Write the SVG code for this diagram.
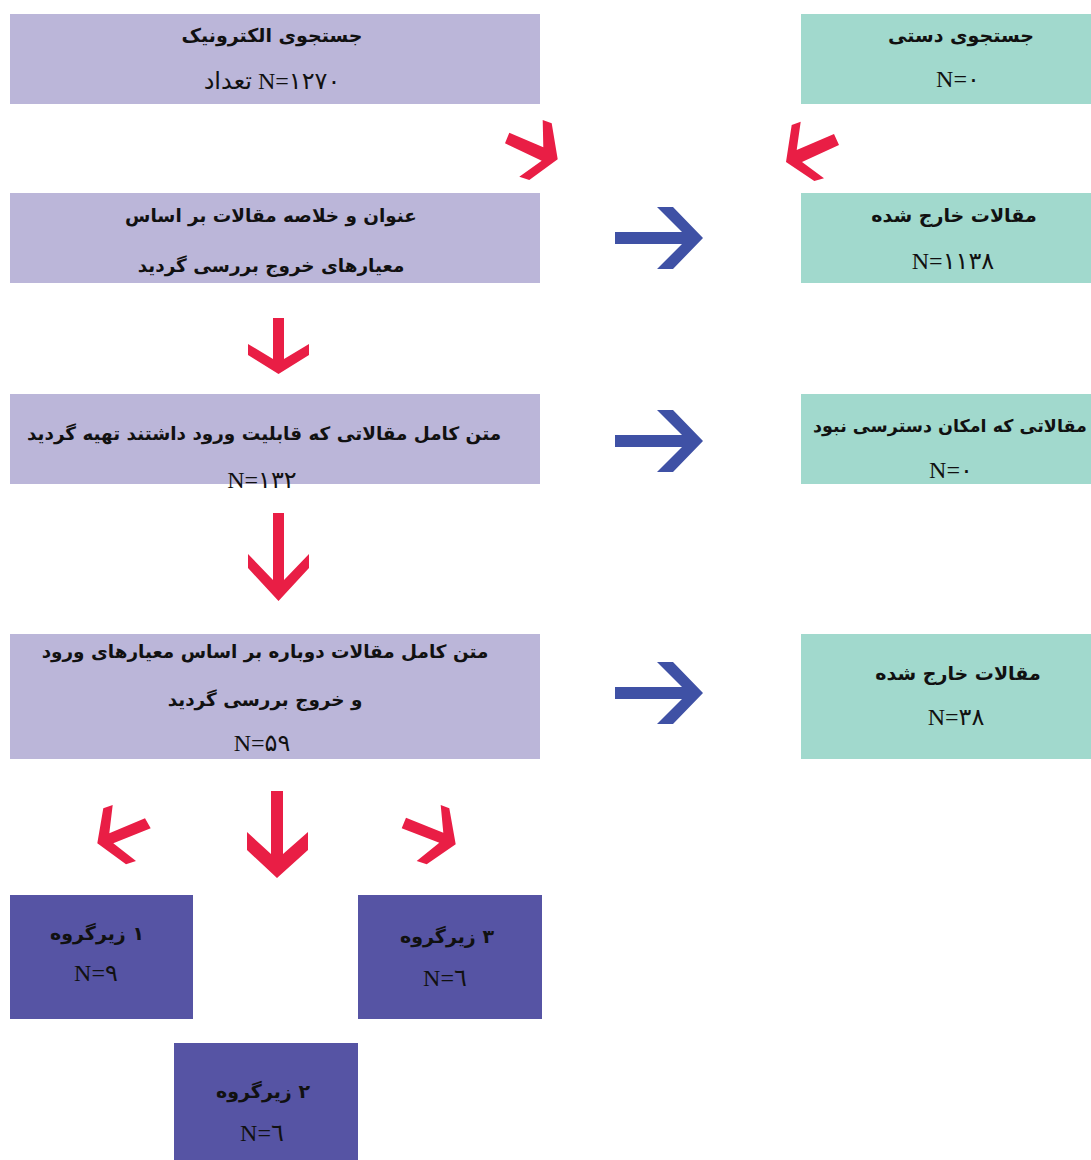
<svg xmlns="http://www.w3.org/2000/svg" width="1091" height="1160" viewBox="0 0 1091 1160">
<style>
.lav{fill:#bbb6d9}
.teal{fill:#a1d9cd}
.dark{fill:#5654a4}
.red{fill:#e91e45}
.blue{fill:#3f51a5}
.fa{font-family:"DejaVu Sans",sans-serif;font-weight:bold;font-size:19px;fill:#111;text-anchor:middle;direction:rtl}
.sm{font-size:18.4px}
.n{font-family:"Liberation Serif","DejaVu Sans",serif;font-size:24px;fill:#111;text-anchor:middle;direction:ltr}
</style>
<rect width="1091" height="1160" fill="#fff"/>
<g id="electronic">
<rect class="lav" x="10" y="14" width="530" height="90"/>
<text class="fa" x="272" y="42">جستجوی الکترونیک</text>
<text class="n" x="272" y="89">تعداد N=۱۲۷۰</text>
</g>
<g id="manual">
<rect class="teal" x="801" y="14" width="290" height="90"/>
<text class="fa" x="961" y="42">جستجوی دستی</text>
<text class="n" x="958" y="87">N=۰</text>
</g>
<g id="screen">
<rect class="lav" x="10" y="193" width="530" height="90"/>
<text class="fa sm" x="271" y="222">عنوان و خلاصه مقالات بر اساس</text>
<text class="fa sm" x="271" y="272">معیارهای خروج بررسی گردید</text>
</g>
<g id="excluded1">
<rect class="teal" x="801" y="193" width="290" height="90"/>
<text class="fa" x="954" y="222">مقالات خارج شده</text>
<text class="n" x="953" y="269">N=۱۱۳۸</text>
</g>
<g id="fulltext">
<rect class="lav" x="10" y="394" width="530" height="90"/>
<text class="fa sm" x="264" y="440">متن کامل مقالاتی که قابلیت ورود داشتند تهیه گردید</text>
<text class="n" x="262" y="488">N=۱۳۲</text>
</g>
<g id="noaccess">
<rect class="teal" x="801" y="394" width="290" height="90"/>
<text class="fa" x="950" y="432" style="font-size:17.5px">مقالاتی که امکان دسترسی نبود</text>
<text class="n" x="951" y="478">N=۰</text>
</g>
<g id="review">
<rect class="lav" x="10" y="634" width="530" height="125"/>
<text class="fa sm" x="265" y="658">متن کامل مقالات دوباره بر اساس معیارهای ورود</text>
<text class="fa sm" x="265" y="706">و خروج بررسی گردید</text>
<text class="n" x="262" y="751">N=۵۹</text>
</g>
<g id="excluded2">
<rect class="teal" x="801" y="634" width="290" height="125"/>
<text class="fa" x="958" y="680">مقالات خارج شده</text>
<text class="n" x="956" y="725">N=۳۸</text>
</g>
<g id="sub1">
<rect class="dark" x="10" y="895" width="183" height="124"/>
<text class="fa" x="97" y="940">۱ زیرگروه</text>
<text class="n" x="96" y="981">N=۹</text>
</g>
<g id="sub3">
<rect class="dark" x="358" y="895" width="184" height="124"/>
<text class="fa" x="447" y="943">۳ زیرگروه</text>
<text class="n" x="445" y="986">N=٦</text>
</g>
<g id="sub2">
<rect class="dark" x="174" y="1043" width="184" height="117"/>
<text class="fa" x="263" y="1098">۲ زیرگروه</text>
<text class="n" x="262" y="1141">N=٦</text>
</g>
<g id="connectors">
<polygon class="red" points="509.3,132.7 543.3,147.3 542.7,120 551.7,123.3 557.7,159.3 529.3,180 519.3,176.7 541.7,160.7 505,143.3"/>
<polygon class="red" points="786,162 791.7,125 800.7,121.7 796.7,150 834,134 839,145 802,162 824,178.3 814.3,181"/>
<polygon class="blue" points="615,232 682,232 657,207 673,207 703,238 673,269 657,269 682,244 615,244"/>
<polygon class="red" points="273,318 284,318 284,359 309,344 309,355 278.5,374 248,355 248,344 273,359"/>
<polygon class="blue" points="615,435 682,435 657,410 673,410 703,441 673,472 657,472 682,447 615,447"/>
<polygon class="red" points="273,513 284,513 284,580 309,554 309,568 278.5,601 248,568 248,554 273,580"/>
<polygon class="blue" points="615,687 682,687 657,662 673,662 703,693 673,724 657,724 682,699 615,699"/>
<polygon class="red" points="97.3,843.3 103.3,808.3 112.7,805 109.3,833.3 145,818.3 150.7,828.3 113.3,843.3 136,861 126,864.3"/>
<polygon class="red" points="271,791 283,791 283,854 308,832 308,850 277,878 247,850 247,832 271,854"/>
<polygon class="red" points="455.7,844.3 426.7,864.3 416.7,861 439.3,842.7 401.7,828.3 406,817.7 443.3,832.7 440.7,805 449.3,808.3"/>
</g>
</svg>
